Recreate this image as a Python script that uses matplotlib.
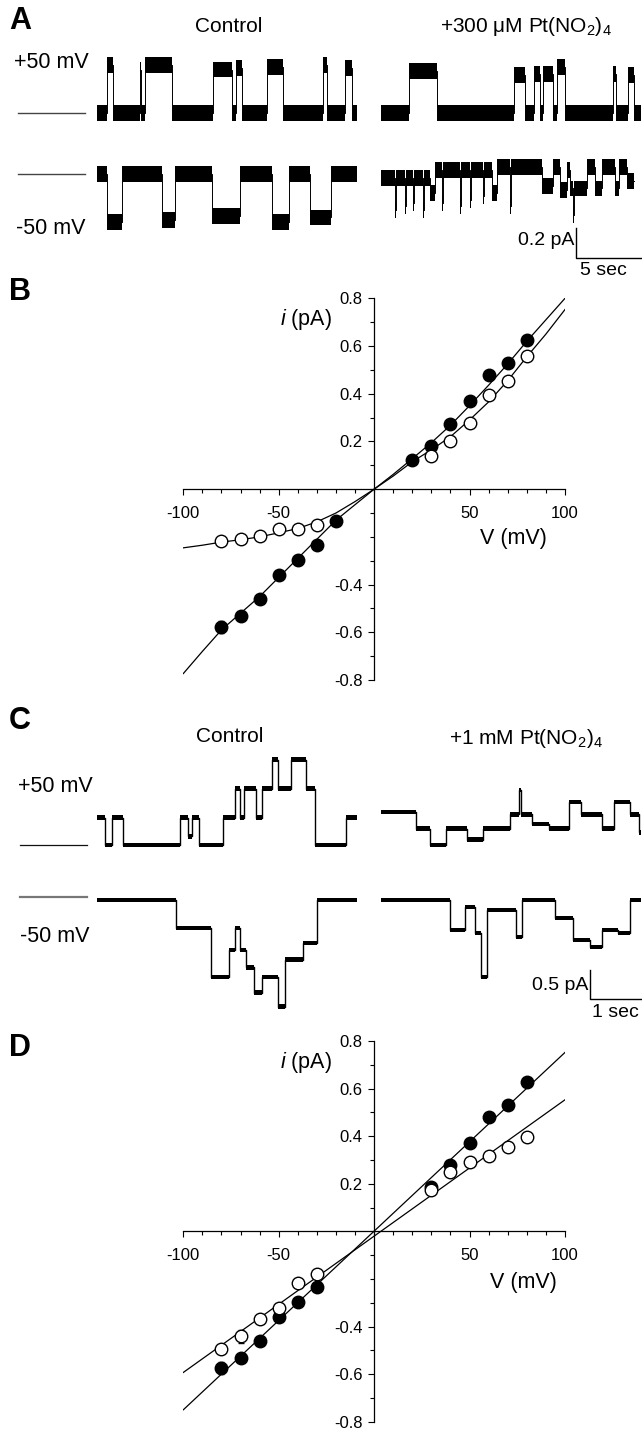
import matplotlib
matplotlib.use('Agg')
import matplotlib.pyplot as plt
import numpy as np

plt.rcParams['font.family'] = ['Liberation Sans', 'DejaVu Sans']
plt.rcParams['mathtext.fontset'] = 'custom'
plt.rcParams['mathtext.rm'] = 'Liberation Sans'
plt.rcParams['mathtext.it'] = 'Liberation Sans:italic'

# ---- single channel records: dwell edges (s) and current level of each dwell (pA)
# panel A, control, +50 mV
a_ctrl_pos_t = [0, 0.75, 1.19, 3.21, 3.32, 3.58, 5.60, 8.66, 10.07, 10.37, 10.82,
                12.69, 13.88, 16.87, 17.16, 18.51, 19.03, 19.40]
a_ctrl_pos_i = [0, 0.33, 0, 0.30, 0, 0.33, 0, 0.30, 0, 0.31, 0, 0.32, 0, 0.33, 0, 0.31, 0]
# panel A, control, -50 mV
a_ctrl_neg_t = [0, 0.75, 1.87, 4.85, 5.82, 8.58, 10.67, 13.06, 14.33, 15.90, 17.46, 19.40]
a_ctrl_neg_i = [0, -0.33, 0, -0.32, 0, -0.29, 0, -0.33, 0, -0.30, 0]
# panel A, +300 uM Pt(NO2)4, +50 mV
a_pt_pos_t = [0, 2.09, 4.18, 9.93, 10.75, 11.42, 11.87, 12.09, 12.84, 13.13, 13.73,
              17.31, 17.54, 18.43, 18.88, 19.40]
a_pt_pos_i = [0, 0.29, 0, 0.26, 0, 0.27, 0, 0.27, 0, 0.32, 0, 0.27, 0, 0.26, 0]
# panel A, +300 uM Pt(NO2)4, -50 mV
a_pt_neg_t = [0.00, 1.04, 1.12, 1.79, 1.87, 2.39, 2.46, 3.13, 3.21, 3.66, 4.03, 4.55, 4.63,
              5.90, 5.97, 6.64, 6.72, 7.61, 7.69, 8.28, 8.66, 9.63, 9.70, 12.01, 12.84,
              13.36, 13.88, 14.10, 14.33, 14.40, 15.37, 15.97, 16.49, 17.46, 17.76, 18.36, 18.88]
a_pt_neg_i = [-0.03, -0.25, -0.03, -0.22, -0.03, -0.20, -0.03, -0.25, -0.03, -0.13, 0.03,
              -0.20, 0.03, -0.22, 0.03, -0.18, 0.03, -0.15, 0.03, -0.13, 0.05, -0.22, 0.05,
              -0.08, 0.05, -0.11, 0.03, -0.10, -0.28, -0.10, 0.05, -0.10, 0.05, -0.10, 0.05, -0.05]

# panel C, control, +50 mV
c_ctrl_pos_t = [0, 0.16, 0.29, 0.51, 1.63, 1.78, 1.86, 2.00, 2.47, 2.71, 2.80, 2.88, 3.12,
                3.24, 3.43, 3.55, 3.80, 4.10, 4.27, 4.88, 5.10]
c_ctrl_pos_i = [0.47, 0, 0.47, 0, 0.47, 0.15, 0.47, 0, 0.47, 0.97, 0.47, 0.97, 0.47, 0.97,
                1.47, 0.97, 1.47, 0.97, 0, 0.47]
# panel C, control, -50 mV
c_ctrl_neg_t = [0, 1.55, 2.24, 2.59, 2.71, 2.80, 2.92, 3.08, 3.24, 3.55, 3.69, 4.04, 4.31, 5.10]
c_ctrl_neg_i = [0, -0.48, -1.33, -0.86, -0.48, -0.86, -1.16, -1.60, -1.33, -1.84, -1.03, -0.74, 0]
# panel C, +1 mM Pt(NO2)4, +50 mV
c_pt_pos_t = [0, 0.69, 0.96, 1.27, 1.69, 2.00, 2.53, 2.71, 2.75, 2.96, 3.29, 3.69, 3.92,
              4.33, 4.57, 4.88, 5.06, 5.10]
c_pt_pos_i = [0.57, 0.28, 0, 0.28, 0.09, 0.28, 0.53, 0.95, 0.53, 0.36, 0.28, 0.74, 0.53,
              0.28, 0.74, 0.53, 0.22]
# panel C, +1 mM Pt(NO2)4, -50 mV
c_pt_neg_t = [0, 1.35, 1.65, 1.84, 1.96, 2.08, 2.65, 2.76, 3.41, 3.76, 4.10, 4.33, 4.65, 4.88, 5.10]
c_pt_neg_i = [0, -0.52, -0.12, -0.57, -1.33, -0.17, -0.64, 0, -0.31, -0.69, -0.81, -0.52, -0.57, 0]

# ---- i-V data
V_pts = [-80, -70, -60, -50, -40, -30, -20, 20, 30, 40, 50, 60, 70, 80]
b_ctrl_i = [-0.577, -0.532, -0.461, -0.360, -0.298, -0.235, -0.133, 0.124, 0.182, 0.275,
            0.370, 0.478, 0.530, 0.625]
b_ctrl_err = [0.025, 0.01, 0.012, 0.01, 0.02, 0.01, 0.01, 0.01, 0.01, 0.01, 0.01, 0.01, 0.01, 0.01]
V_pt_b = [-80, -70, -60, -50, -40, -30, 30, 40, 50, 60, 70, 80]
b_pt_i = [-0.218, -0.211, -0.196, -0.165, -0.168, -0.151, 0.140, 0.201, 0.278, 0.394, 0.453, 0.559]
b_pt_err = [0.01] * 12

V_fit = [-100, -90, -80, -70, -60, -50, -40, -30, -20, -10, 0, 10, 20, 30, 40, 50, 60, 70, 80, 90, 100]
b_ctrl_fit = [-0.773, -0.68, -0.59, -0.52, -0.45, -0.37, -0.29, -0.21, -0.13, -0.065, 0,
              0.062, 0.128, 0.195, 0.268, 0.35, 0.436, 0.525, 0.62, 0.71, 0.80]
b_pt_fit = [-0.246, -0.235, -0.222, -0.212, -0.200, -0.183, -0.165, -0.137, -0.100, -0.052, 0,
            0.055, 0.115, 0.165, 0.22, 0.29, 0.366, 0.455, 0.555, 0.65, 0.753]

V_pt_d = [-80, -70, -60, -50, -40, -30, 30, 40, 50, 60, 70, 80]
V_ctrl_d = [-80, -70, -60, -50, -40, -30, 30, 40, 50, 60, 70, 80]
d_ctrl_i = [-0.574, -0.532, -0.462, -0.361, -0.298, -0.235, 0.185, 0.280, 0.371, 0.480, 0.532, 0.628]
d_ctrl_err = [0.025, 0.01, 0.01, 0.01, 0.015, 0.01, 0.01, 0.01, 0.01, 0.01, 0.01, 0.01]
d_pt_i = [-0.493, -0.441, -0.367, -0.322, -0.217, -0.178, 0.174, 0.248, 0.290, 0.318, 0.353, 0.397]
d_pt_err = [0.015, 0.028, 0.01, 0.01, 0.01, 0.01, 0.01, 0.01, 0.01, 0.01, 0.01, 0.01]
V_line = [-100, 100]
d_ctrl_line = [-0.750, 0.752]
d_pt_line = [-0.593, 0.553]

W, H = 642, 1429
fig = plt.figure(figsize=(W / 100, H / 100), dpi=100)


def add_ax(x0, y0, x1, y1):
    # pixel box, y measured from top
    return fig.add_axes([x0 / W, 1 - y1 / H, (x1 - x0) / W, (y1 - y0) / H])


def ftext(px, py, s, **kw):
    fig.text(px / W, 1 - py / H, s, **kw)


def trace_ax(x0, x1, y0, y1, yzero, px_s, px_pa):
    ax = add_ax(x0, y0, x1, y1)
    ax.set_xlim(0, (x1 - x0) / px_s)
    ax.set_ylim(-(y1 - yzero) / px_pa, (yzero - y0) / px_pa)
    ax.axis('off')
    return ax


def draw_trace(ax, t, lv, half, lw=0.7):
    x = np.repeat(np.asarray(t, float), 2)[1:-1]
    y = np.repeat(np.asarray(lv, float), 2)
    ax.fill_between(x, y - half, y + half, color='black', lw=0)
    ax.plot(x, y, color='black', lw=lw)


LBL = 15.5

# ---------------- panel A
A_S, A_PA = 13.4, 145.0
ax = trace_ax(97, 357, 28, 140, 113, A_S, A_PA)
draw_trace(ax, a_ctrl_pos_t, a_ctrl_pos_i, 0.055)
ax.plot([(18 - 97) / A_S, (85 - 97) / A_S], [0, 0], color='#444444', lw=1, clip_on=False)
ax = trace_ax(381, 641, 28, 140, 113, A_S, A_PA)
draw_trace(ax, a_pt_pos_t, a_pt_pos_i, 0.055)
ax = trace_ax(97, 357, 150, 262, 174, A_S, A_PA)
draw_trace(ax, a_ctrl_neg_t, a_ctrl_neg_i, 0.055)
ax.plot([(18 - 97) / A_S, (85 - 97) / A_S], [0, 0], color='#444444', lw=1, clip_on=False)
ax = trace_ax(381, 641, 150, 262, 174, A_S, A_PA)
draw_trace(ax, a_pt_neg_t, a_pt_neg_i, 0.055)
t1 = (576 - 381) / A_S
ib = -(258 - 174) / A_PA
ax.plot([t1, t1, t1 + 5], [ib + 0.21, ib, ib], color='black', lw=1, clip_on=False)
ax.text(t1 - 0.1, ib + 0.12, '0.2 pA', ha='right', va='center', fontsize=14)
ax.text(t1 + 2.05, ib - 0.03, '5 sec', ha='center', va='top', fontsize=14)

ftext(9, 21, 'A', fontsize=22, fontweight='bold', va='center')
ftext(229, 26, 'Control', fontsize=15, ha='center', va='center')
ftext(526, 27, r'+300 μM Pt(NO$_2$)$_4$', fontsize=15, ha='center', va='center')
ftext(14, 62, '+50 mV', fontsize=LBL, va='center')
ftext(16, 228, '-50 mV', fontsize=LBL, va='center')

# ---------------- panel C
C_S, C_PA = 51.0, 58.0
ax = trace_ax(97, 357, 740, 860, 845, C_S, C_PA)
draw_trace(ax, c_ctrl_pos_t, c_ctrl_pos_i, 0.04, lw=1.0)
ax.plot([(20 - 97) / C_S, (87 - 97) / C_S], [0, 0], color='#111111', lw=0.9, clip_on=False)
ax = trace_ax(381, 641, 740, 860, 845, C_S, C_PA)
draw_trace(ax, c_pt_pos_t, c_pt_pos_i, 0.04, lw=1.0)
ax = trace_ax(97, 357, 880, 1015, 900, C_S, C_PA)
draw_trace(ax, c_ctrl_neg_t, c_ctrl_neg_i, 0.04, lw=1.0)
ax.plot([(20 - 97) / C_S, (87 - 97) / C_S], [0.05, 0.05], color='#777777', lw=1.6, clip_on=False)
ax = trace_ax(381, 641, 880, 1015, 900, C_S, C_PA)
draw_trace(ax, c_pt_neg_t, c_pt_neg_i, 0.04, lw=1.0)
t1 = (590 - 381) / C_S
ib = -(999 - 900) / C_PA
ax.plot([t1, t1, t1 + 1], [ib + 0.5, ib, ib], color='black', lw=1, clip_on=False)
ax.text(t1 - 0.03, ib + 0.24, '0.5 pA', ha='right', va='center', fontsize=14)
ax.text(t1 + 0.5, ib - 0.08, '1 sec', ha='center', va='top', fontsize=14)

ftext(9, 721, 'C', fontsize=22, fontweight='bold', va='center')
ftext(230, 737, 'Control', fontsize=15, ha='center', va='center')
ftext(526, 738, r'+1 mM Pt(NO$_2$)$_4$', fontsize=15, ha='center', va='center')
ftext(18, 786, '+50 mV', fontsize=LBL, va='center')
ftext(20, 936, '-50 mV', fontsize=LBL, va='center')


# ---------------- i-V panels
def iv_axes(y_top, y_bot):
    ax = add_ax(183.3, y_top, 565, y_bot)
    ax.set_xlim(-100, 100)
    ax.set_ylim(-0.8, 0.8)
    ax.patch.set_visible(False)
    ax.spines['top'].set_visible(False)
    ax.spines['right'].set_visible(False)
    ax.spines['left'].set_position(('data', 0))
    ax.spines['bottom'].set_position(('data', 0))
    ax.spines['left'].set_linewidth(0.9)
    ax.spines['bottom'].set_linewidth(0.9)
    ax.set_xticks([-100, -50, 50, 100])
    ax.set_xticklabels(['-100', '-50', '50', '100'])
    ax.set_xticks(np.arange(-100, 101, 10), minor=True)
    ax.set_yticks([-0.8, -0.6, -0.4, 0.2, 0.4, 0.6, 0.8])
    ax.set_yticklabels(['-0.8', '-0.6', '-0.4', '0.2', '0.4', '0.6', '0.8'])
    ax.set_yticks(np.arange(-0.8, 0.81, 0.1), minor=True)
    ax.tick_params(which='major', length=4.3, width=0.8, direction='out', labelsize=12)
    ax.tick_params(which='minor', length=3.0, width=0.8, direction='out')
    ax.tick_params(axis='x', pad=8)
    ax.tick_params(axis='y', pad=4)
    ax.text(-22, 0.71, '$i$ (pA)', ha='right', va='center', fontsize=LBL)
    return ax


marker_kw = dict(fmt='o', ms=9, mec='black', mew=1.0, ecolor='black',
                 elinewidth=0.8, capsize=2.5, capthick=0.8, zorder=3)

ax = iv_axes(298.3, 680)
ax.plot(V_fit, b_ctrl_fit, color='black', lw=0.9)
ax.plot(V_fit, b_pt_fit, color='black', lw=0.9)
ax.errorbar(V_pts, b_ctrl_i, yerr=b_ctrl_err, mfc='black', **marker_kw)
ax.errorbar(V_pt_b, b_pt_i, yerr=b_pt_err, mfc='white', **marker_kw)
ax.text(73, -0.205, 'V (mV)', ha='center', va='center', fontsize=LBL)
ftext(9, 292, 'B', fontsize=22, fontweight='bold', va='center')

ax = iv_axes(1041, 1421.7)
ax.plot(V_line, d_ctrl_line, color='black', lw=0.9)
ax.plot(V_line, d_pt_line, color='black', lw=0.9)
ax.errorbar(V_ctrl_d, d_ctrl_i, yerr=d_ctrl_err, mfc='black', **marker_kw)
ax.errorbar(V_pt_d, d_pt_i, yerr=d_pt_err, mfc='white', **marker_kw)
ax.text(78, -0.213, 'V (mV)', ha='center', va='center', fontsize=LBL)
ftext(9, 1048, 'D', fontsize=22, fontweight='bold', va='center')

fig.savefig('out.png', dpi=100)
